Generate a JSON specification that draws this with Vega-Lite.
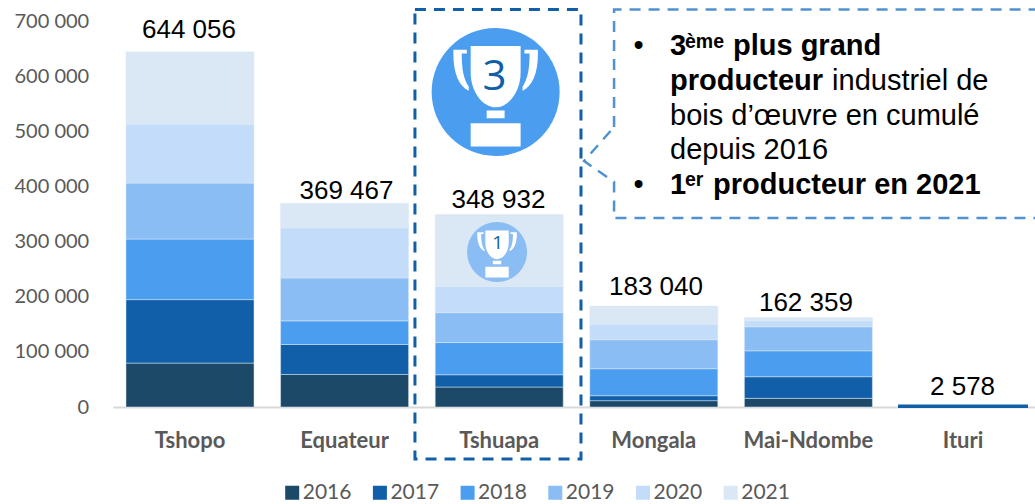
{"$schema":"https://vega.github.io/schema/vega-lite/v6.json","autosize":{"type":"none"},"width":922.3,"height":386,"padding":{"left":112.7,"top":21,"right":0,"bottom":97},"background":"#ffffff","config":{"view":{"stroke":null},"font":"Liberation Sans"},
"datasets":{
"prod":[
{"region":"Tshopo","year":"2016","volume":79600},{"region":"Tshopo","year":"2017","volume":115100},{"region":"Tshopo","year":"2018","volume":109900},{"region":"Tshopo","year":"2019","volume":101400},{"region":"Tshopo","year":"2020","volume":106800},{"region":"Tshopo","year":"2021","volume":131256},
{"region":"Equateur","year":"2016","volume":59000},{"region":"Equateur","year":"2017","volume":54300},{"region":"Equateur","year":"2018","volume":42900},{"region":"Equateur","year":"2019","volume":77800},{"region":"Equateur","year":"2020","volume":90500},{"region":"Equateur","year":"2021","volume":44967},
{"region":"Tshuapa","year":"2016","volume":36200},{"region":"Tshuapa","year":"2017","volume":22300},{"region":"Tshuapa","year":"2018","volume":58400},{"region":"Tshuapa","year":"2019","volume":54300},{"region":"Tshuapa","year":"2020","volume":47100},{"region":"Tshuapa","year":"2021","volume":130632},
{"region":"Mongala","year":"2016","volume":11500},{"region":"Mongala","year":"2017","volume":9000},{"region":"Mongala","year":"2018","volume":48900},{"region":"Mongala","year":"2019","volume":52500},{"region":"Mongala","year":"2020","volume":28300},{"region":"Mongala","year":"2021","volume":32840},
{"region":"Mai-Ndombe","year":"2016","volume":15700},{"region":"Mai-Ndombe","year":"2017","volume":39200},{"region":"Mai-Ndombe","year":"2018","volume":47000},{"region":"Mai-Ndombe","year":"2019","volume":43500},{"region":"Mai-Ndombe","year":"2020","volume":10800},{"region":"Mai-Ndombe","year":"2021","volume":6159},
{"region":"Ituri","year":"2017","volume":2578}],
"totals":[{"a":0.4935,"label":"644 056","pos":669181},{"a":1.512,"label":"369 467","pos":377208},{"a":2.495,"label":"348 932","pos":360887},{"a":3.514,"label":"183 040","pos":203100},{"a":4.484,"label":"162 359","pos":174100},{"a":5.497,"label":"2 578","pos":21762}],
"box":[{"a":1.955,"b":3.029,"lo":-94302,"hi":720866}],
"callout":[{"o":1,"a":3.243,"v":507780},{"o":2,"a":3.243,"v":720866},{"o":3,"a":6.1,"v":720866},{"o":4,"a":6.1,"v":342752},{"o":5,"a":3.243,"v":342752},{"o":6,"a":3.243,"v":408038},{"o":7,"a":3.049,"v":446121},{"o":8,"a":3.243,"v":507780}],
"bigTrophy":[{"a":2.477,"v":571253}],
"smallTrophy":[{"a":2.486,"v":281093}],
"bigRank":[{"a":2.469,"v":574880,"t":"3"}],
"smallRank":[{"a":2.49,"v":286533,"t":"1"}],
"boldText":[{"a":3.605,"v":638350,"t":"3"},{"a":4.012,"v":638350,"t":"plus grand"},{"a":3.605,"v":574880,"t":"producteur"},{"a":3.605,"v":386300,"t":"1"},{"a":3.883,"v":386300,"t":"producteur en 2021"}],
"plainText":[{"a":4.653,"v":574880,"t":"industriel de"},{"a":3.605,"v":511400,"t":"bois d’œuvre en cumulé"},{"a":3.605,"v":449748,"t":"depuis 2016"},{"a":3.369,"v":638350,"t":"•"},{"a":3.369,"v":386300,"t":"•"}],
"supText":[{"a":3.702,"v":651600,"t":"ème"},{"a":3.702,"v":399900,"t":"er"}]
},
"resolve":{"scale":{"x":"independent"}},
"layer":[
{"data":{"name":"prod"},"mark":{"type":"bar","stroke":"#DCE9F7","strokeWidth":0.5},
"encoding":{
"x":{"field":"region","type":"nominal","sort":["Tshopo","Equateur","Tshuapa","Mongala","Mai-Ndombe","Ituri"],"scale":{"range":[0,927.6],"paddingInner":0.172,"paddingOuter":0.086},
"axis":{"title":null,"labelAngle":0,"labelFont":"Lato","labelFontWeight":"bold","labelFontSize":22,"labelColor":"#595959","labelPadding":23,"ticks":false,"domainColor":"#D9D9D9","domainWidth":2,"grid":false}},
"y":{"field":"volume","type":"quantitative","aggregate":"sum","scale":{"domain":[0,700000],"nice":false},
"axis":{"title":null,"values":[0,100000,200000,300000,400000,500000,600000,700000],"labelExpr":"replace(format(datum.value,','),',',' ')","labelFont":"Lato","labelFontSize":20,"labelColor":"#595959","labelPadding":24,"ticks":false,"domain":false,"grid":false}},
"color":{"field":"year","type":"nominal","scale":{"domain":["2016","2017","2018","2019","2020","2021"],"range":["#1C4968","#105FA8","#4B9EEF","#8ABDF3","#C2DCF9","#DAE7F5"]},
"legend":{"title":null,"orient":"none","direction":"horizontal","legendX":169,"legendY":461,"symbolType":"square","symbolSize":196,"symbolStrokeWidth":0,"labelFont":"Lato","labelFontSize":21,"labelColor":"#595959","labelOffset":0,"columnPadding":17.7}},
"order":{"field":"year","type":"ordinal"}}},
{"data":{"name":"prod"},"transform":[{"filter":"datum.region === 'Ituri'"}],"mark":{"type":"bar","stroke":"#105FA8","strokeWidth":2,"fill":"#105FA8"},
"encoding":{"x":{"field":"region","type":"nominal","sort":["Tshopo","Equateur","Tshuapa","Mongala","Mai-Ndombe","Ituri"],"scale":{"domain":["Tshopo","Equateur","Tshuapa","Mongala","Mai-Ndombe","Ituri"],"range":[0,927.6],"paddingInner":0.172,"paddingOuter":0.086},"axis":null},"y":{"field":"volume","type":"quantitative"}}},
{"data":{"name":"totals"},"mark":{"type":"text","font":"Liberation Sans","fontSize":26,"color":"#000000","baseline":"alphabetic","align":"center"},
"encoding":{"x":{"field":"a","type":"quantitative","scale":{"domain":[0,6],"range":[0,927.6],"nice":false,"zero":false},"axis":null},"y":{"field":"pos","type":"quantitative"},"text":{"field":"label"}}},
{"data":{"name":"box"},"mark":{"type":"rect","fill":null,"fillOpacity":0,"stroke":"#105FA8","strokeWidth":3,"strokeDash":[11,8]},
"encoding":{"x":{"field":"a","type":"quantitative","scale":{"domain":[0,6],"range":[0,927.6],"nice":false,"zero":false},"axis":null},"x2":{"field":"b"},"y":{"field":"lo","type":"quantitative"},"y2":{"field":"hi"}}},
{"data":{"name":"callout"},"mark":{"type":"line","stroke":"#5092D0","strokeWidth":2.5,"strokeDash":[11,8]},
"encoding":{"x":{"field":"a","type":"quantitative","scale":{"domain":[0,6],"range":[0,927.6],"nice":false,"zero":false},"axis":null},"y":{"field":"v","type":"quantitative"},"order":{"field":"o","type":"quantitative"}}},
{"data":{"name":"bigTrophy"},"mark":{"type":"point","filled":true,"shape":"circle","size":16384,"fill":"#4B9EEF","opacity":1},
"encoding":{"x":{"field":"a","type":"quantitative","scale":{"domain":[0,6],"range":[0,927.6],"nice":false,"zero":false},"axis":null},"y":{"field":"v","type":"quantitative"}}},
{"data":{"name":"bigTrophy"},"mark":{"type":"point","filled":true,"size":16384,"fill":"#FFFFFF","opacity":1,"shape":"M-0.39 -0.72L0.39 -0.72L0.39 -0.3C0.39 0 0.2 0.24 0 0.24C-0.2 0.24 -0.39 0 -0.39 -0.3ZM-0.14 0.29L0.14 0.29L0.14 0.41L-0.14 0.41ZM-0.39 0.49L0.39 0.49L0.39 0.85L-0.39 0.85ZM-0.66 -0.66L-0.45 -0.66L-0.45 -0.6L-0.53 -0.6C-0.53 -0.35 -0.5 -0.2 -0.42 -0.08L-0.42 -0.02C-0.58 -0.1 -0.67 -0.3 -0.66 -0.66ZM0.66 -0.66L0.45 -0.66L0.45 -0.6L0.53 -0.6C0.53 -0.35 0.5 -0.2 0.42 -0.08L0.42 -0.02C0.58 -0.1 0.67 -0.3 0.66 -0.66Z"},
"encoding":{"x":{"field":"a","type":"quantitative","scale":{"domain":[0,6],"range":[0,927.6],"nice":false,"zero":false},"axis":null},"y":{"field":"v","type":"quantitative"}}},
{"data":{"name":"bigRank"},"mark":{"type":"text","font":"Open Sans","fontSize":42,"color":"#105FA8","baseline":"alphabetic","align":"center"},
"encoding":{"x":{"field":"a","type":"quantitative","scale":{"domain":[0,6],"range":[0,927.6],"nice":false,"zero":false},"axis":null},"y":{"field":"v","type":"quantitative"},"text":{"field":"t"}}},
{"data":{"name":"smallTrophy"},"mark":{"type":"point","filled":true,"shape":"circle","size":3600,"fill":"#8ABDF3","opacity":1},
"encoding":{"x":{"field":"a","type":"quantitative","scale":{"domain":[0,6],"range":[0,927.6],"nice":false,"zero":false},"axis":null},"y":{"field":"v","type":"quantitative"}}},
{"data":{"name":"smallTrophy"},"mark":{"type":"point","filled":true,"size":3600,"fill":"#FFFFFF","opacity":1,"shape":"M-0.39 -0.72L0.39 -0.72L0.39 -0.3C0.39 0 0.2 0.24 0 0.24C-0.2 0.24 -0.39 0 -0.39 -0.3ZM-0.14 0.29L0.14 0.29L0.14 0.41L-0.14 0.41ZM-0.39 0.49L0.39 0.49L0.39 0.85L-0.39 0.85ZM-0.66 -0.66L-0.45 -0.66L-0.45 -0.6L-0.53 -0.6C-0.53 -0.35 -0.5 -0.2 -0.42 -0.08L-0.42 -0.02C-0.58 -0.1 -0.67 -0.3 -0.66 -0.66ZM0.66 -0.66L0.45 -0.66L0.45 -0.6L0.53 -0.6C0.53 -0.35 0.5 -0.2 0.42 -0.08L0.42 -0.02C0.58 -0.1 0.67 -0.3 0.66 -0.66Z"},
"encoding":{"x":{"field":"a","type":"quantitative","scale":{"domain":[0,6],"range":[0,927.6],"nice":false,"zero":false},"axis":null},"y":{"field":"v","type":"quantitative"}}},
{"data":{"name":"smallRank"},"mark":{"type":"text","font":"Open Sans","fontSize":19,"color":"#105FA8","baseline":"alphabetic","align":"center"},
"encoding":{"x":{"field":"a","type":"quantitative","scale":{"domain":[0,6],"range":[0,927.6],"nice":false,"zero":false},"axis":null},"y":{"field":"v","type":"quantitative"},"text":{"field":"t"}}},
{"data":{"name":"boldText"},"mark":{"type":"text","font":"Liberation Sans","fontSize":29,"fontWeight":"bold","color":"#000000","baseline":"alphabetic","align":"left"},
"encoding":{"x":{"field":"a","type":"quantitative","scale":{"domain":[0,6],"range":[0,927.6],"nice":false,"zero":false},"axis":null},"y":{"field":"v","type":"quantitative"},"text":{"field":"t"}}},
{"data":{"name":"plainText"},"mark":{"type":"text","font":"Liberation Sans","fontSize":29,"color":"#000000","baseline":"alphabetic","align":"left"},
"encoding":{"x":{"field":"a","type":"quantitative","scale":{"domain":[0,6],"range":[0,927.6],"nice":false,"zero":false},"axis":null},"y":{"field":"v","type":"quantitative"},"text":{"field":"t"}}},
{"data":{"name":"supText"},"mark":{"type":"text","font":"Liberation Sans","fontSize":19.5,"fontWeight":"bold","color":"#000000","baseline":"alphabetic","align":"left"},
"encoding":{"x":{"field":"a","type":"quantitative","scale":{"domain":[0,6],"range":[0,927.6],"nice":false,"zero":false},"axis":null},"y":{"field":"v","type":"quantitative"},"text":{"field":"t"}}}
]}
